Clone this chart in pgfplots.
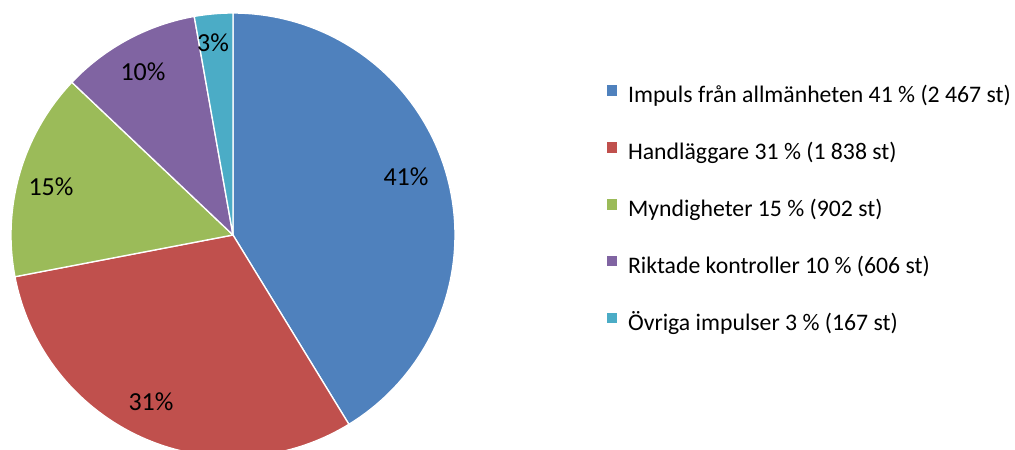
\documentclass[border=0pt]{standalone}
\usepackage{pgfplots}
\pgfplotsset{compat=1.18}
\usepackage{fontspec}
\setmainfont{Carlito}
\definecolor{cA}{HTML}{4F81BD}
\definecolor{cB}{HTML}{C0504D}
\definecolor{cC}{HTML}{9BBB59}
\definecolor{cD}{HTML}{8064A2}
\definecolor{cE}{HTML}{4BACC6}
% counts (st)
\def\nA{2467}\def\nB{1838}\def\nC{902}\def\nD{606}\def\nE{167}
\pgfmathsetmacro\tot{\nA+\nB+\nC+\nD+\nE}
\pgfmathsetmacro\aZ{90}
\pgfmathsetmacro\aA{\aZ-360*(\nA/\tot)}
\pgfmathsetmacro\aB{\aA-360*(\nB/\tot)}
\pgfmathsetmacro\aC{\aB-360*(\nC/\tot)}
\pgfmathsetmacro\aD{\aC-360*(\nD/\tot)}
\pgfmathsetmacro\aE{\aD-360*(\nE/\tot)}
\def\cx{233}\def\cy{215}\def\R{222}
\begin{document}
\begin{tikzpicture}
\begin{axis}[
  width=761.25pt, height=337.5pt, scale only axis,
  xmin=0, xmax=1015, ymin=0, ymax=450,
  hide axis, clip=true,
  font=\fontsize{19.5}{23}\selectfont,
  legend style={at={(axis cs:601,369)}, anchor=north west, draw=none, fill=none,
    font=\fontsize{17.8}{21}\selectfont, text=black,
    nodes={inner sep=0pt, text height=12pt, text depth=3pt},
    row sep=25.9pt, column sep=7.5pt},
  legend cell align=left,
  legend image code/.code={\fill[#1] (0pt,0pt) rectangle (8.6pt,8.8pt);},
]
\addplot[fill=cA, draw=white, line width=1pt, domain=\aA:\aZ, samples=90, variable=\t]
  ({\cx+\R*cos(\t)},{\cy+\R*sin(\t)}) -- (axis cs:\cx,\cy) -- cycle;
\addlegendentry{Impuls från allmänheten 41 \% (2 467 st)}
\addplot[fill=cB, draw=white, line width=1pt, domain=\aB:\aA, samples=70, variable=\t]
  ({\cx+\R*cos(\t)},{\cy+\R*sin(\t)}) -- (axis cs:\cx,\cy) -- cycle;
\addlegendentry{Handläggare 31 \% (1 838 st)}
\addplot[fill=cC, draw=white, line width=1pt, domain=\aC:\aB, samples=40, variable=\t]
  ({\cx+\R*cos(\t)},{\cy+\R*sin(\t)}) -- (axis cs:\cx,\cy) -- cycle;
\addlegendentry{Myndigheter 15 \% (902 st)}
\addplot[fill=cD, draw=white, line width=1pt, domain=\aD:\aC, samples=30, variable=\t]
  ({\cx+\R*cos(\t)},{\cy+\R*sin(\t)}) -- (axis cs:\cx,\cy) -- cycle;
\addlegendentry{Riktade kontroller 10 \% (606 st)}
\addplot[fill=cE, draw=white, line width=1pt, domain=\aE:\aD, samples=12, variable=\t]
  ({\cx+\R*cos(\t)},{\cy+\R*sin(\t)}) -- (axis cs:\cx,\cy) -- cycle;
\addlegendentry{Övriga impulser 3 \% (167 st)}
\node[text=black] at (axis cs:406,273) {41\%};
\node[text=black] at (axis cs:151,48) {31\%};
\node[text=black] at (axis cs:51,263) {15\%};
\node[text=black] at (axis cs:143,378) {10\%};
\node[text=black] at (axis cs:213,407) {3\%};
\end{axis}
\pgfresetboundingbox
\path[use as bounding box] (current axis.south west) rectangle (current axis.north east);
\end{tikzpicture}
\end{document}
